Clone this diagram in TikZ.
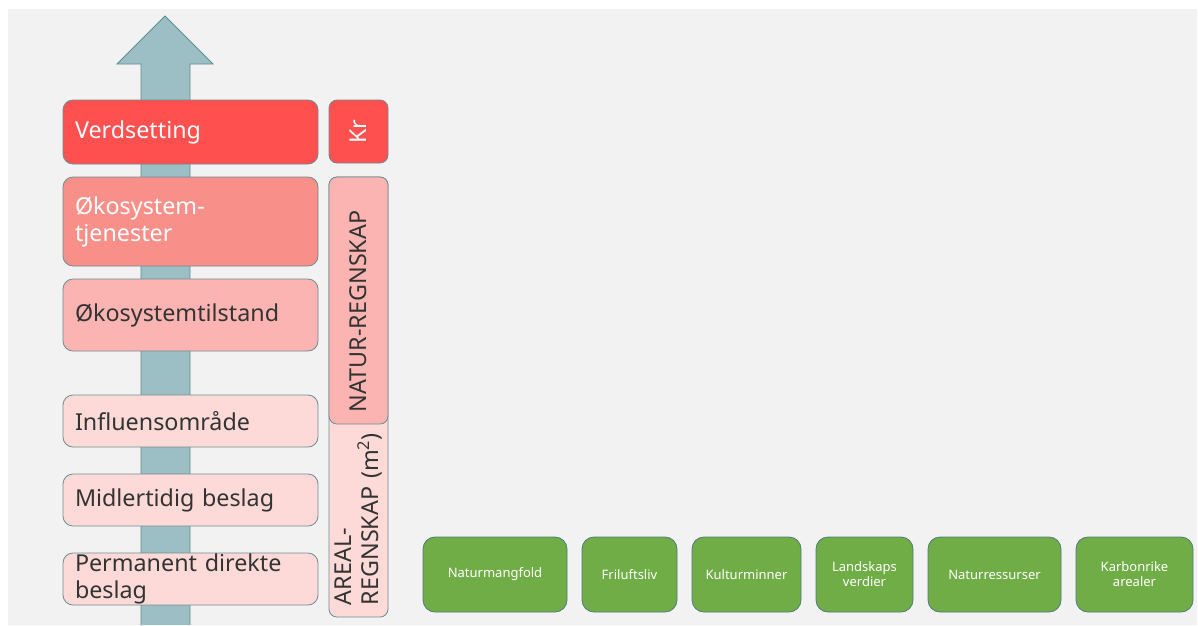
\documentclass[tikz,border=0pt]{standalone}
\usepackage{fontspec}
\setmainfont{Noto Sans}
\usepackage{tikz}
\usetikzlibrary{positioning}
\definecolor{bggray}{HTML}{F2F2F2}
\definecolor{arrowfill}{HTML}{9BBFC4}
\definecolor{arrowline}{HTML}{5E8C93}
\definecolor{boxline}{HTML}{6E8C92}
\definecolor{darktext}{HTML}{333333}
\definecolor{kred}{HTML}{FF5050}
\definecolor{ksalmon}{HTML}{F98F89}
\definecolor{kpink}{HTML}{FBB4B1}
\definecolor{klight}{HTML}{FDDAD8}
\definecolor{kgreen}{HTML}{70AD47}
\definecolor{greenline}{HTML}{4E7A82}
\tikzstyle{levelbox} = [rectangle, rounded corners=10pt, draw=boxline, line width=0.8pt, outer sep=0pt, text width=231pt, align=left, inner xsep=12pt, inner ysep=0pt, text=darktext, font=\fontsize{23.3}{27}\selectfont]
\tikzstyle{redbox} = [levelbox, fill=kred, text=white]
\tikzstyle{salmonbox} = [levelbox, fill=ksalmon, text=white]
\tikzstyle{pinkbox} = [levelbox, fill=kpink]
\tikzstyle{lightbox} = [levelbox, fill=klight]
\tikzstyle{sidebox} = [rectangle, rounded corners=8pt, draw=boxline, line width=0.8pt, outer sep=0pt, rotate=90, minimum height=59pt, inner xsep=12pt, inner ysep=0pt, align=left, text=darktext, font=\fontsize{23.3}{27}\selectfont]
\tikzstyle{greenbox} = [rectangle, rounded corners=12pt, draw=greenline, line width=0.8pt, outer sep=0pt, fill=kgreen, text=white, minimum height=75pt, align=center, font=\fontsize{13}{15}\selectfont]

\begin{document}
\begin{tikzpicture}[x=1pt, y=-1pt]
  \useasboundingbox (0,0) rectangle (1198,625);
  \fill[white] (0,0) rectangle (1198,625);
  \fill[bggray] (8,9) rectangle (1197,625);

  % arrow behind the levels
  \fill[arrowfill] (141,625) -- (141,64) -- (117,64) -- (165,16) -- (213,64) -- (190,64) -- (190,625) -- cycle;
  \draw[arrowline, line width=0.8pt] (141,625) -- (141,64) -- (117,64) -- (165,16) -- (213,64) -- (190,64) -- (190,625);

  % levels
  \node (verd) [redbox, minimum height=64pt, anchor=north west] at (63,100) {Verdsetting};
  \node (tjen) [salmonbox, minimum height=89pt, below=13pt of verd] {Økosystem-\\tjenester};
  \node (tilst) [pinkbox, minimum height=72pt, below=13pt of tjen] {Økosystemtilstand};
  \node (infl) [lightbox, minimum height=52pt, below=44pt of tilst] {Influensområde};
  \node (midl) [lightbox, minimum height=52pt, below=27pt of infl] {Midlertidig beslag};
  \node (perm) [lightbox, minimum height=52pt, below=27pt of midl] {Permanent direkte\\beslag};

  % accounts
  \node (kr) [sidebox, fill=kred, text=white, minimum width=63pt, align=center] at (358.5,131.5) {Kr};
  \node (areal) [sidebox, fill=klight, text width=416pt] at (358.5,397) {AREAL-\\REGNSKAP (m\textsuperscript{2})};
  \node (natur) [sidebox, fill=kpink, text width=223pt] at (358.5,300.5) {NATUR-REGNSKAP};

  % themes
  \node (mangfold) [greenbox, minimum width=144pt, anchor=north west] at (423,537) {Naturmangfold};
  \node (friluft) [greenbox, minimum width=95pt, right=15pt of mangfold] {Friluftsliv};
  \node (kultur) [greenbox, minimum width=109pt, right=15pt of friluft] {Kulturminner};
  \node (landskap) [greenbox, minimum width=97pt, right=15pt of kultur] {Landskaps\\verdier};
  \node (ressurs) [greenbox, minimum width=133pt, right=15pt of landskap] {Naturressurser};
  \node (karbon) [greenbox, minimum width=117pt, right=15pt of ressurs] {Karbonrike\\arealer};
\end{tikzpicture}
\end{document}
